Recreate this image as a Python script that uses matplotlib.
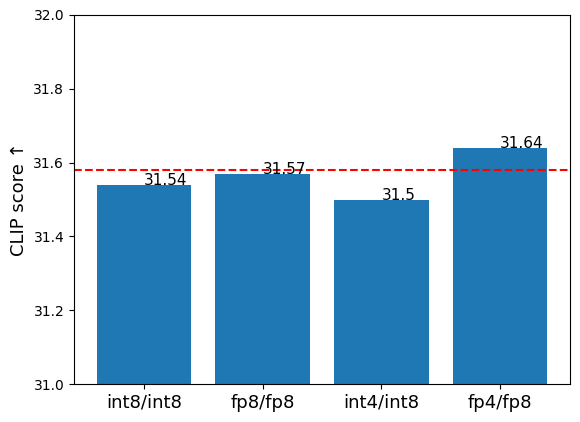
import matplotlib
matplotlib.use("Agg")
import matplotlib.pyplot as plt

categories = ["int8/int8", "fp8/fp8", "int4/int8", "fp4/fp8"]
scores = [31.54, 31.57, 31.5, 31.64]
baseline = 31.58

fig = plt.figure(figsize=(5.8, 4.22), dpi=100)
ax = fig.add_axes([74/580, (422-384)/422, (570-74)/580, (384-15)/422])
x = list(range(len(categories)))
ax.bar(x, scores, color="#1f77b4")
for i, v in zip(x, scores):
    ax.text(i, v, str(v), fontsize=11)
ax.axhline(baseline, color="red", linestyle="--")
ax.set_ylim(31.0, 32.0)
ax.set_xticks(x)
ax.set_xticklabels(categories, fontsize=13)
ax.set_ylabel("CLIP score ↑", fontsize=13)
fig.savefig("out.png", dpi=100)
